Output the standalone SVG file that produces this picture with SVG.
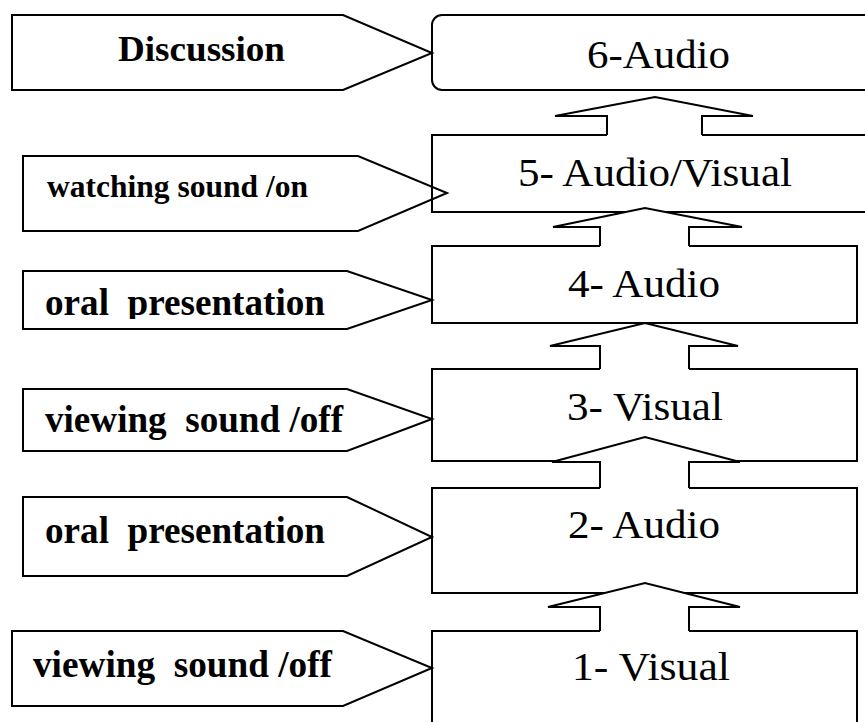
<svg xmlns="http://www.w3.org/2000/svg" width="865" height="722" viewBox="0 0 865 722">
<style>
.box{fill:#fff;stroke:#000;stroke-width:2}
.pent{fill:none;stroke:#000;stroke-width:2;stroke-linejoin:miter}
.afill{fill:#fff;stroke:none}
.aline{fill:none;stroke:#000;stroke-width:2;stroke-linejoin:miter}
text{font-family:"Liberation Serif",serif;fill:#000}
.lbl{font-weight:bold}
.btxt{font-size:40px}
</style>
<defs>
<clipPath id="clipOral"><rect x="0" y="260" width="440" height="59"/></clipPath>
</defs>
<rect width="865" height="722" fill="#fff"/>

<g id="box6"><rect class="box" x="432" y="15" width="445" height="75" rx="10"/><text class="btxt" x="587" y="68" textLength="143" lengthAdjust="spacingAndGlyphs">6-Audio</text></g>
<g id="box5"><rect class="box" x="432" y="135" width="445" height="77"/><text class="btxt" x="518" y="186" textLength="274" lengthAdjust="spacingAndGlyphs">5- Audio/Visual</text></g>
<g id="box4"><rect class="box" x="432" y="246" width="425" height="77"/><text class="btxt" x="568" y="297" textLength="152" lengthAdjust="spacingAndGlyphs">4- Audio</text></g>
<g id="box3"><rect class="box" x="432" y="369" width="425" height="92"/><text class="btxt" x="567" y="420" textLength="156" lengthAdjust="spacingAndGlyphs">3- Visual</text></g>
<g id="box2"><rect class="box" x="432" y="488" width="425" height="105"/><text class="btxt" x="568" y="538" textLength="152" lengthAdjust="spacingAndGlyphs">2- Audio</text></g>
<g id="box1"><rect class="box" x="432" y="631" width="425" height="110"/><text class="btxt" x="572" y="680" textLength="158" lengthAdjust="spacingAndGlyphs">1- Visual</text></g>

<g id="connectors">
<polygon class="afill" points="655,97 753,116 702,116 702,136 607,136 607,116 555,116"/>
<polyline class="aline" points="607,135 607,116 555,116 655,97 753,116 702,116 702,135"/>
<polygon class="afill" points="645,208 742,227 689,227 689,247 600,247 600,227 553,227"/>
<polyline class="aline" points="600,246 600,227 553,227 645,208 742,227 689,227 689,246"/>
<polygon class="afill" points="645,323 738,346 689,346 689,370 600,370 600,346 550,346"/>
<polyline class="aline" points="600,369 600,346 550,346 645,323 738,346 689,346 689,369"/>
<polygon class="afill" points="645,437 740,462 689,462 689,489 600,489 600,462 552,462"/>
<polyline class="aline" points="600,488 600,462 552,462 645,437 740,462 689,462 689,488"/>
<polygon class="afill" points="645,583 740,607 689,607 689,632 600,632 600,607 548,607"/>
<polyline class="aline" points="600,631 600,607 548,607 645,583 740,607 689,607 689,631"/>
</g>

<g id="label6"><polygon class="pent" points="12,15 343,15 432,53 343,90 12,90"/><text class="lbl" font-size="36" x="118" y="61" textLength="167" lengthAdjust="spacingAndGlyphs">Discussion</text></g>
<g id="label5"><polygon class="pent" points="23,156 358,156 447,193 358,231 23,231"/><text class="lbl" font-size="31" x="47" y="197" textLength="261" lengthAdjust="spacingAndGlyphs">watching sound /on</text></g>
<g id="label4"><polygon class="pent" points="23,271 347,271 432,300 347,329 23,329"/><text class="lbl" font-size="37" x="45" y="315" textLength="280" lengthAdjust="spacingAndGlyphs" clip-path="url(#clipOral)" xml:space="preserve">oral  presentation</text></g>
<g id="label3"><polygon class="pent" points="23,389 347,389 432,419 347,451 23,451"/><text class="lbl" font-size="37" x="45" y="432" textLength="298" lengthAdjust="spacingAndGlyphs" xml:space="preserve">viewing  sound /off</text></g>
<g id="label2"><polygon class="pent" points="23,497 347,497 432,537 347,576 23,576"/><text class="lbl" font-size="37" x="45" y="543" textLength="280" lengthAdjust="spacingAndGlyphs" xml:space="preserve">oral  presentation</text></g>
<g id="label1"><polygon class="pent" points="12,631 343,631 432,668 343,706 12,706"/><text class="lbl" font-size="37" x="33" y="677" textLength="299" lengthAdjust="spacingAndGlyphs" xml:space="preserve">viewing  sound /off</text></g>
</svg>
